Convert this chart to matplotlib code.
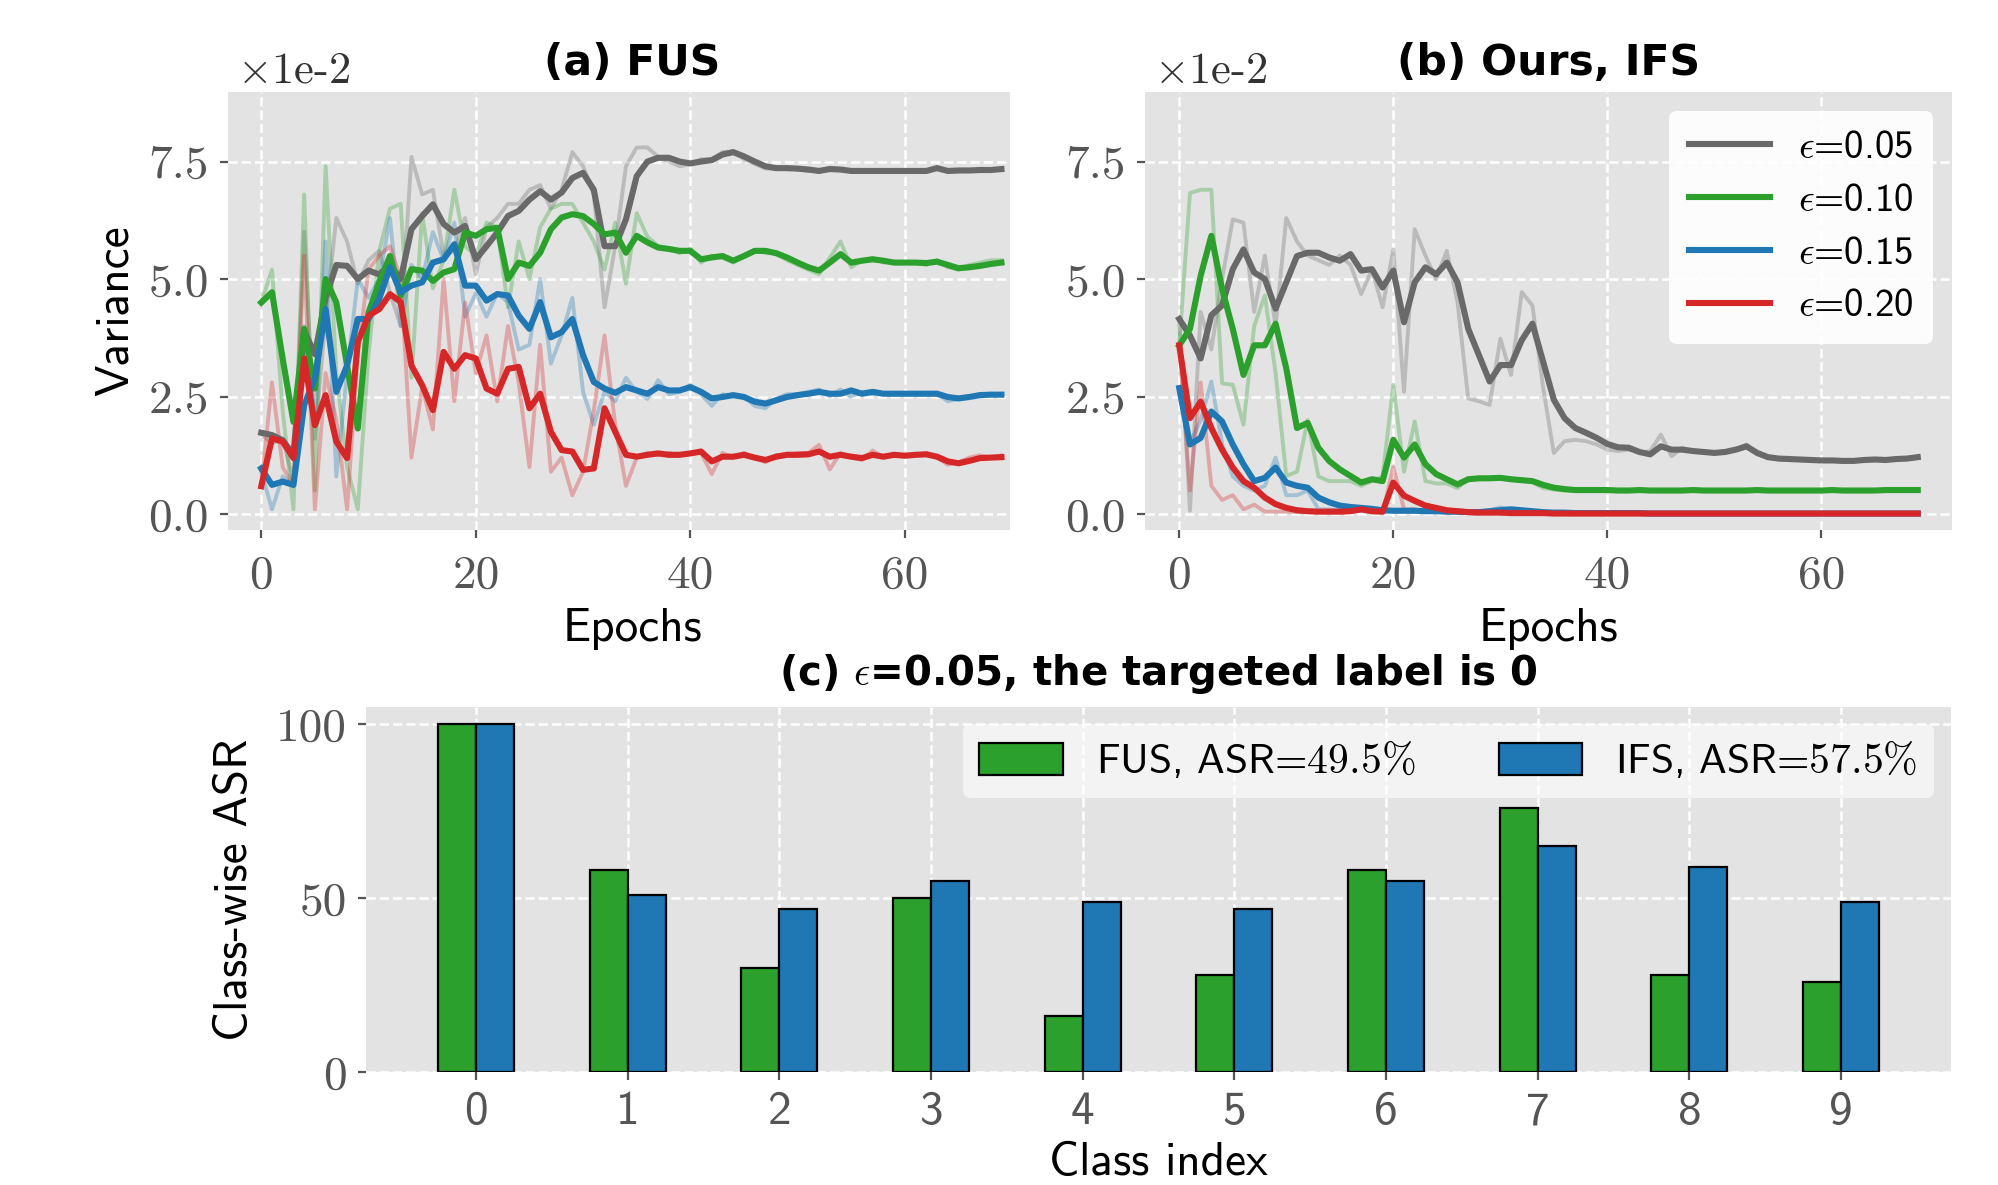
import numpy as np
import matplotlib
matplotlib.use("Agg")
from matplotlib import pyplot as plt

plt.style.use("ggplot")
plt.rcParams["mathtext.fontset"] = "cm"
plt.rcParams["axes.unicode_minus"] = False

epochs = list(range(70))

# panel (a) FUS, variance in units of 1e-2 ; _s = smoothed, _r = raw
gray_a_s = [1.73, 1.68, 1.57, 1.26, 3.9, 3.4, 4.6, 5.3, 5.28, 5.0,
            5.18, 5.1, 5.3, 5.0, 6.06, 6.34, 6.59, 6.17, 5.99, 6.13,
            5.42, 5.7, 5.99, 6.34, 6.45, 6.69, 6.87, 6.69, 6.84, 7.15,
            7.26, 6.9, 5.7, 5.7, 6.27, 7.19, 7.5, 7.58, 7.58, 7.5,
            7.46, 7.5, 7.53, 7.65, 7.7, 7.61, 7.5, 7.4, 7.36, 7.36,
            7.35, 7.33, 7.3, 7.34, 7.33, 7.3, 7.3, 7.3, 7.3, 7.3,
            7.3, 7.3, 7.3, 7.36, 7.3, 7.31, 7.31, 7.32, 7.32, 7.34]
gray_a_r = [1.7, 1.5, 1.6, 0.7, 6.0, 1.6, 4.2, 6.3, 5.8, 4.9,
            5.4, 5.6, 4.7, 4.0, 7.6, 6.8, 6.9, 5.5, 5.6, 6.3,
            5.1, 6.1, 6.3, 6.6, 6.6, 6.9, 7.0, 6.5, 6.9, 7.7,
            7.4, 6.8, 4.4, 5.7, 7.4, 7.8, 7.8, 7.6, 7.5, 7.4,
            7.45, 7.55, 7.55, 7.7, 7.72, 7.55, 7.45, 7.35, 7.35, 7.36,
            7.33, 7.3, 7.3, 7.37, 7.32, 7.3, 7.3, 7.3, 7.31, 7.3,
            7.3, 7.32, 7.3, 7.38, 7.28, 7.3, 7.31, 7.33, 7.32, 7.35]
green_a_s = [4.5, 4.72, 3.3, 1.96, 3.94, 2.67, 5.0, 4.5, 3.16, 1.82,
             4.29, 4.93, 5.49, 4.65, 5.21, 5.18, 4.96, 5.14, 5.21, 5.99,
             5.92, 6.06, 6.09, 5.0, 5.35, 5.28, 5.56, 6.06, 6.31, 6.38,
             6.34, 6.17, 5.95, 5.99, 5.56, 5.92, 5.78, 5.67, 5.64, 5.6,
             5.6, 5.42, 5.46, 5.49, 5.39, 5.49, 5.6, 5.6, 5.55, 5.46,
             5.35, 5.25, 5.18, 5.35, 5.53, 5.35, 5.39, 5.42, 5.39, 5.35,
             5.35, 5.35, 5.34, 5.37, 5.3, 5.23, 5.25, 5.28, 5.32, 5.35]
green_a_r = [4.5, 5.2, 2.2, 0.1, 6.8, 0.5, 7.4, 3.0, 1.0, 0.1,
             3.4, 5.6, 6.5, 6.6, 2.9, 6.4, 4.8, 5.4, 6.9, 5.7,
             5.5, 6.2, 6.1, 4.4, 5.8, 5.0, 6.1, 6.5, 6.6, 6.6,
             6.2, 5.8, 5.2, 6.2, 4.9, 6.4, 5.9, 5.7, 5.65, 5.55,
             5.65, 5.35, 5.5, 5.45, 5.35, 5.5, 5.62, 5.55, 5.55, 5.4,
             5.3, 5.2, 5.1, 5.45, 5.8, 5.25, 5.4, 5.45, 5.35, 5.35,
             5.35, 5.35, 5.3, 5.4, 5.25, 5.2, 5.3, 5.35, 5.4, 5.4]
blue_a_s = [0.97, 0.62, 0.69, 0.62, 2.32, 2.88, 4.36, 2.6, 3.16, 4.15,
            4.15, 4.58, 5.25, 4.72, 4.86, 4.93, 5.35, 5.42, 5.74, 4.86,
            4.86, 4.54, 4.68, 4.65, 4.22, 3.94, 4.51, 3.76, 3.87, 4.15,
            3.38, 2.81, 2.67, 2.58, 2.7, 2.63, 2.56, 2.7, 2.63, 2.63,
            2.7, 2.6, 2.46, 2.49, 2.53, 2.49, 2.39, 2.35, 2.42, 2.49,
            2.53, 2.56, 2.6, 2.56, 2.56, 2.63, 2.56, 2.6, 2.56, 2.56,
            2.56, 2.56, 2.56, 2.56, 2.49, 2.46, 2.49, 2.53, 2.54, 2.54]
blue_a_r = [0.9, 0.1, 0.8, 0.6, 4.0, 2.0, 5.8, 0.8, 3.0, 5.0,
            4.6, 5.0, 6.3, 4.0, 5.3, 5.0, 6.0, 5.4, 6.2, 4.2,
            4.7, 4.2, 4.7, 4.5, 3.5, 3.6, 5.0, 3.2, 3.8, 4.6,
            2.6, 1.9, 2.6, 2.4, 2.9, 2.6, 2.45, 2.85, 2.55, 2.6,
            2.75, 2.55, 2.3, 2.55, 2.5, 2.5, 2.3, 2.25, 2.45, 2.55,
            2.55, 2.6, 2.65, 2.5, 2.65, 2.5, 2.6, 2.55, 2.55, 2.55,
            2.55, 2.55, 2.55, 2.55, 2.4, 2.45, 2.5, 2.55, 2.55, 2.55]
red_a_s = [0.59, 1.61, 1.54, 1.19, 3.31, 1.89, 2.53, 1.54, 1.19, 3.66,
           4.22, 4.36, 4.68, 4.51, 3.16, 2.74, 2.21, 3.45, 3.09, 3.38,
           3.31, 2.67, 2.56, 3.09, 3.13, 2.25, 2.56, 1.75, 1.36, 1.33,
           0.94, 0.97, 2.25, 1.75, 1.26, 1.22, 1.26, 1.29, 1.26, 1.26,
           1.29, 1.33, 1.12, 1.22, 1.22, 1.26, 1.2, 1.15, 1.22, 1.26,
           1.26, 1.27, 1.33, 1.22, 1.26, 1.22, 1.19, 1.26, 1.22, 1.26,
           1.24, 1.26, 1.27, 1.22, 1.12, 1.08, 1.13, 1.19, 1.2, 1.21]
red_a_r = [0.6, 2.8, 1.0, 0.6, 5.5, 0.1, 3.0, 2.0, 0.1, 3.4,
           5.2, 5.5, 5.7, 5.0, 1.2, 2.7, 1.8, 5.0, 2.4, 4.5,
           3.0, 3.8, 2.4, 4.0, 2.8, 1.0, 3.6, 0.9, 1.2, 0.4,
           0.9, 2.2, 3.8, 1.9, 0.6, 1.2, 1.3, 1.25, 1.3, 1.25,
           1.3, 1.3, 0.85, 1.3, 1.2, 1.3, 1.2, 1.1, 1.25, 1.25,
           1.3, 1.3, 1.47, 0.95, 1.3, 1.2, 1.15, 1.35, 1.2, 1.25,
           1.25, 1.25, 1.3, 1.2, 1.05, 1.1, 1.2, 1.25, 1.2, 1.25]

# panel (b) Ours, IFS
gray_b_s = [4.15, 3.8, 3.31, 4.23, 4.44, 5.21, 5.63, 5.14, 5.0, 4.37,
            4.93, 5.49, 5.56, 5.56, 5.46, 5.39, 5.53, 5.18, 5.21, 4.82,
            5.18, 4.08, 4.93, 5.25, 5.1, 5.35, 4.93, 3.94, 3.38, 2.82,
            3.17, 3.17, 3.7, 4.05, 3.24, 2.43, 2.04, 1.83, 1.73, 1.62,
            1.49, 1.42, 1.41, 1.32, 1.27, 1.44, 1.37, 1.37, 1.34, 1.32,
            1.3, 1.32, 1.37, 1.44, 1.3, 1.21, 1.18, 1.17, 1.16, 1.15,
            1.14, 1.14, 1.13, 1.13, 1.15, 1.16, 1.15, 1.17, 1.18, 1.21]
gray_b_r = [4.1, 0.07, 4.3, 3.5, 5.0, 6.27, 6.2, 4.3, 5.5, 4.0,
            6.3, 5.8, 5.5, 5.4, 5.3, 5.5, 5.3, 4.68, 5.2, 4.4,
            5.63, 2.6, 6.06, 5.5, 5.0, 5.6, 4.5, 2.46, 2.4, 2.32,
            3.73, 2.96, 4.72, 4.44, 2.68, 1.3, 1.55, 1.58, 1.55, 1.48,
            1.37, 1.34, 1.37, 1.3, 1.34, 1.69, 1.23, 1.41, 1.34, 1.34,
            1.3, 1.34, 1.37, 1.48, 1.27, 1.2, 1.17, 1.16, 1.15, 1.14,
            1.13, 1.13, 1.12, 1.13, 1.16, 1.16, 1.14, 1.18, 1.19, 1.22]
green_b_s = [3.59, 3.94, 5.07, 5.92, 4.79, 3.94, 2.96, 3.59, 3.59, 4.05,
             3.1, 1.83, 1.94, 1.41, 1.13, 0.95, 0.81, 0.67, 0.74, 0.7,
             1.58, 1.2, 1.48, 1.06, 0.85, 0.74, 0.63, 0.74, 0.76, 0.76,
             0.77, 0.74, 0.72, 0.7, 0.62, 0.56, 0.53, 0.51, 0.51, 0.51,
             0.51, 0.5, 0.5, 0.51, 0.5, 0.5, 0.5, 0.5, 0.51, 0.5,
             0.5, 0.5, 0.5, 0.5, 0.51, 0.5, 0.5, 0.5, 0.5, 0.5,
             0.5, 0.51, 0.5, 0.5, 0.5, 0.5, 0.51, 0.51, 0.51, 0.51]
green_b_r = [3.6, 6.83, 6.9, 6.9, 2.78, 2.75, 1.9, 4.0, 4.65, 3.0,
             0.81, 0.9, 2.0, 0.8, 0.7, 0.7, 0.7, 0.6, 0.7, 0.8,
             2.75, 0.9, 1.97, 0.7, 0.65, 0.65, 0.55, 0.75, 0.75, 0.78,
             0.75, 0.73, 0.72, 0.68, 0.55, 0.52, 0.5, 0.5, 0.51, 0.5,
             0.5, 0.5, 0.49, 0.51, 0.5, 0.5, 0.5, 0.5, 0.51, 0.5,
             0.5, 0.5, 0.5, 0.49, 0.51, 0.5, 0.5, 0.5, 0.5, 0.5,
             0.5, 0.51, 0.5, 0.5, 0.5, 0.5, 0.51, 0.51, 0.51, 0.51]
blue_b_s = [2.68, 1.48, 1.62, 2.18, 1.97, 1.48, 1.06, 0.7, 0.77, 0.99,
            0.67, 0.6, 0.56, 0.35, 0.25, 0.18, 0.15, 0.13, 0.11, 0.08,
            0.07, 0.07, 0.07, 0.06, 0.06, 0.05, 0.05, 0.04, 0.04, 0.06,
            0.08, 0.1, 0.08, 0.06, 0.04, 0.03, 0.03, 0.02, 0.02, 0.02,
            0.02, 0.02, 0.02, 0.02, 0.01, 0.01, 0.01, 0.01, 0.01, 0.01,
            0.01, 0.01, 0.01, 0.01, 0.01, 0.01, 0.01, 0.01, 0.01, 0.01,
            0.01, 0.01, 0.01, 0.01, 0.01, 0.01, 0.01, 0.01, 0.01, 0.01]
blue_b_r = [2.7, 1.5, 2.0, 2.82, 1.5, 0.8, 0.6, 0.5, 0.6, 1.2,
            0.4, 0.4, 0.5, 0.1, 0.1, 0.08, 0.08, 0.06, 0.05, 0.05,
            0.06, 0.05, 0.05, 0.05, 0.04, 0.04, 0.03, 0.03, 0.04, 0.08,
            0.14, 0.1, 0.05, 0.03, 0.02, 0.02, 0.02, 0.01, 0.01, 0.01,
            0.01, 0.01, 0.01, 0.01, 0.01, 0.01, 0.01, 0.01, 0.01, 0.01,
            0.01, 0.01, 0.01, 0.01, 0.01, 0.01, 0.01, 0.01, 0.01, 0.01,
            0.01, 0.01, 0.01, 0.01, 0.01, 0.01, 0.01, 0.01, 0.01, 0.01]
red_b_s = [3.59, 2.04, 2.39, 1.83, 1.37, 0.99, 0.7, 0.56, 0.35, 0.21,
           0.13, 0.08, 0.06, 0.05, 0.05, 0.05, 0.06, 0.1, 0.06, 0.05,
           0.67, 0.39, 0.28, 0.18, 0.13, 0.08, 0.06, 0.04, 0.03, 0.03,
           0.03, 0.02, 0.02, 0.02, 0.02, 0.01, 0.01, 0.01, 0.01, 0.01,
           0.01, 0.01, 0.01, 0.01, 0.01, 0.01, 0.01, 0.01, 0.01, 0.01,
           0.01, 0.01, 0.01, 0.01, 0.01, 0.01, 0.01, 0.01, 0.01, 0.01,
           0.01, 0.01, 0.01, 0.01, 0.01, 0.01, 0.01, 0.01, 0.01, 0.01]
red_b_r = [3.6, 0.5, 2.8, 0.6, 0.3, 0.4, 0.1, 0.2, 0.05, 0.05,
           0.05, 0.04, 0.04, 0.04, 0.05, 0.05, 0.08, 0.15, 0.03, 0.03,
           1.0, 0.1, 0.1, 0.05, 0.05, 0.03, 0.03, 0.02, 0.02, 0.02,
           0.02, 0.02, 0.02, 0.01, 0.01, 0.01, 0.01, 0.01, 0.01, 0.01,
           0.01, 0.01, 0.01, 0.01, 0.01, 0.01, 0.01, 0.01, 0.01, 0.01,
           0.01, 0.01, 0.01, 0.01, 0.01, 0.01, 0.01, 0.01, 0.01, 0.01,
           0.01, 0.01, 0.01, 0.01, 0.01, 0.01, 0.01, 0.01, 0.01, 0.01]

eps_labels = [r"$\epsilon$=0.05", r"$\epsilon$=0.10", r"$\epsilon$=0.15", r"$\epsilon$=0.20"]
line_colors = ["dimgray", "#2ca02c", "#1f77b4", "#d62728"]

# panel (c) class-wise ASR
classes = list(range(10))
fus_asr = [100, 58, 30, 50, 16, 28, 58, 76, 28, 26]
ifs_asr = [100, 51, 47, 55, 49, 47, 55, 65, 59, 49]
bar_labels = [r"FUS, ASR=$49.5\%$", r"IFS, ASR=$57.5\%$"]

W, H = 1999, 1185
fig = plt.figure(figsize=(W / 200, H / 200), dpi=200)


def box(l, t, r, b):
    return [l / W, 1 - b / H, (r - l) / W, (b - t) / H]


tick_col = "#555555"
serif = "cmr10"
sans = "cmss10"
bold = "DejaVu Sans"


def style_axes(ax):
    ax.set_facecolor("#E3E3E3")
    ax.grid(True, color="white", linestyle="--", linewidth=0.9)
    for s in ax.spines.values():
        s.set_visible(False)
    ax.tick_params(colors=tick_col, length=3, width=0.8, pad=4)


def variance_panel(ax, raws, smooths, title, xlim, title_x):
    style_axes(ax)
    ax.tick_params(axis="x", pad=6)
    for r, c in zip(raws, line_colors):
        ax.plot(epochs, r, color=c, lw=1.4, alpha=0.32)
    lines = []
    for s, c, lab in zip(smooths, line_colors, eps_labels):
        ln, = ax.plot(epochs, s, color=c, lw=2.2, label=lab)
        lines.append(ln)
    ax.set_xlim(*xlim)
    ax.set_ylim(-0.34, 8.98)
    ax.set_yticks([0, 2.5, 5.0, 7.5])
    ax.set_yticklabels(["0.0", "2.5", "5.0", "7.5"], fontfamily=serif, fontsize=17)
    ax.set_xticks([0, 20, 40, 60])
    ax.set_xticklabels(["0", "20", "40", "60"], fontfamily=serif, fontsize=17)
    ax.set_xlabel("Epochs", fontfamily=sans, fontsize=17, color="black", labelpad=4, x=title_x)
    ax.set_title(title, fontfamily=bold, fontweight="bold", fontsize=15.3, pad=6, x=title_x)
    ax.text(0.011, 1.022, r"$\times$1e-2", transform=ax.transAxes, fontfamily=serif,
            fontsize=16, color="#333333", va="baseline", ha="left")
    return lines


ax_a = fig.add_axes(box(228, 92, 1010, 530))
variance_panel(ax_a, [gray_a_r, green_a_r, blue_a_r, red_a_r],
               [gray_a_s, green_a_s, blue_a_s, red_a_s], "(a) FUS", (-3.1, 69.8), 0.517)
ax_a.set_ylabel("Variance", fontfamily=sans, fontsize=17, color="black", labelpad=4)

ax_b = fig.add_axes(box(1145, 92, 1952, 530))
variance_panel(ax_b, [gray_b_r, green_b_r, blue_b_r, red_b_r],
               [gray_b_s, green_b_s, blue_b_s, red_b_s], "(b) Ours, IFS", (-3.2, 72.2), 0.5)
leg = ax_b.legend(loc="upper right", prop={"family": sans, "size": 14}, facecolor="white",
                  framealpha=0.9, edgecolor="none", handlelength=2.1, handletextpad=0.7,
                  labelspacing=0.45, borderaxespad=0.5, borderpad=0.5)

# bar panel
ax_c = fig.add_axes(box(366, 707, 1951, 1072))
style_axes(ax_c)
x = np.arange(len(classes))
w = 0.25
ax_c.bar(x - w / 2, fus_asr, w, color="#2ca02c", edgecolor="black", linewidth=0.8, label=bar_labels[0])
ax_c.bar(x + w / 2, ifs_asr, w, color="#1f77b4", edgecolor="black", linewidth=0.8, label=bar_labels[1])
ax_c.set_ylim(0, 105)
ax_c.set_xlim(-0.725, 9.725)
ax_c.set_xticks(x)
ax_c.set_xticklabels([str(c) for c in classes], fontfamily=sans, fontsize=17)
ax_c.set_yticks([0, 50, 100])
ax_c.set_yticklabels(["0", "50", "100"], fontfamily=serif, fontsize=17)
ax_c.set_xlabel("Class index", fontfamily=sans, fontsize=17, color="black", labelpad=3)
ax_c.set_ylabel("Class-wise ASR", fontfamily=sans, fontsize=17, color="black", labelpad=7)
ax_c.set_title(r"(c) $\epsilon$=0.05, the targeted label is 0", fontfamily=bold,
               fontweight="bold", fontsize=14.5, pad=8)
ax_c.legend(loc="upper right", ncol=2, prop={"family": sans, "size": 15}, facecolor="white",
            framealpha=0.6, edgecolor="none", handlelength=2.0, handleheight=0.8,
            columnspacing=2.0, handletextpad=0.8, borderaxespad=0.4)

fig.savefig("out.png", dpi=200)
